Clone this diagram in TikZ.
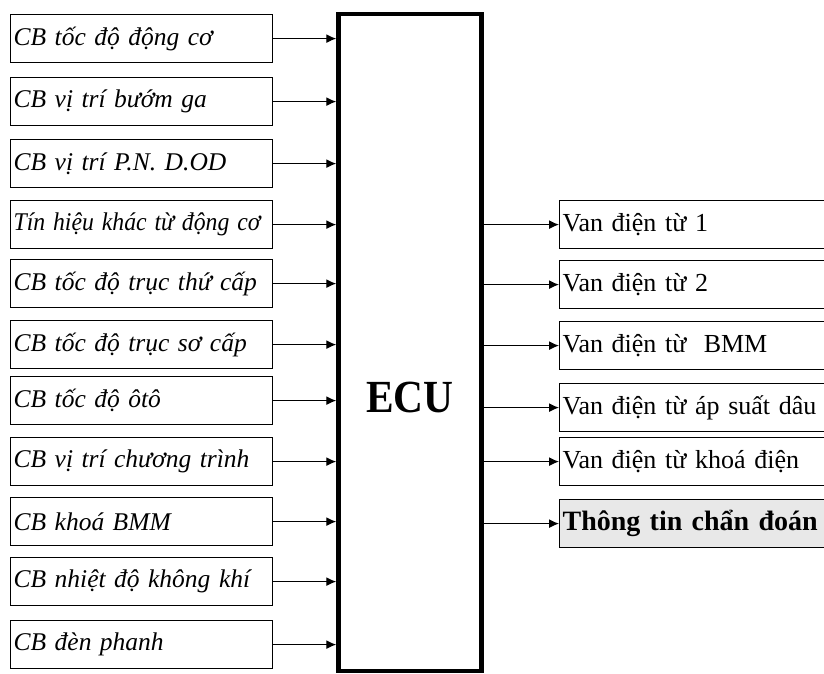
\documentclass[tikz,border=0pt]{standalone}
\usepackage{fontspec}
\setmainfont{Liberation Serif}
\usetikzlibrary{arrows.meta}
\tikzset{
  inbox/.style={draw, line width=1.2pt, anchor=north west, minimum width=262pt, minimum height=48pt,
    text width=256pt, align=left, inner sep=3pt, font=\fontsize{25.5}{29}\selectfont\itshape},
  outbox/.style={draw, line width=1.2pt, anchor=north west, minimum width=300pt, minimum height=48pt,
    text width=294pt, align=left, inner sep=3pt, font=\fontsize{26}{30}\selectfont},
  sig/.style={line width=1.2pt, -{Latex[length=10pt,width=9pt]}},
}
\begin{document}
\begin{tikzpicture}[x=1pt,y=-1pt]
\clip (0,0) rectangle (824,673);
\fill[white] (0,0) rectangle (824,673);
\node[draw, line width=4.5pt, anchor=north west, minimum width=143pt, minimum height=657pt, inner sep=0pt, outer sep=0pt] (ecu) at (338.5,14) {};
\node[font=\fontsize{46}{50}\selectfont\bfseries] (ecut) at (410,397) {\scalebox{0.9}[1]{ECU}};
\node[inbox] (i1) at (10,14) {CB tốc độ động cơ};
\node[inbox] (i2) at (10,77) {CB vị trí bướm ga};
\node[inbox] (i3) at (10,139) {CB vị trí P.N. D.OD};
\node[inbox] (i4) at (10,200) {\scalebox{0.93}[1]{Tín hiệu khác từ động cơ}};
\node[inbox] (i5) at (10,259) {CB tốc độ trục thứ cấp};
\node[inbox] (i6) at (10,320) {CB tốc độ trục sơ cấp};
\node[inbox] (i7) at (10,376) {CB tốc độ ôtô};
\node[inbox] (i8) at (10,437) {CB vị trí chương trình};
\node[inbox] (i9) at (10,497) {CB khoá BMM};
\node[inbox] (i10) at (10,557) {CB nhiệt độ không khí};
\node[inbox] (i11) at (10,620) {CB đèn phanh};
\foreach \i in {1,...,11} {\draw[sig] (i\i.east) -- ([xshift=-2.25pt]i\i.east -| ecu.west);}
\node[outbox] (o1) at (559,200) {Van điện từ 1};
\node[outbox] (o2) at (559,260) {Van điện từ 2};
\node[outbox] (o3) at (559,321) {Van điện từ\ \ BMM};
\node[outbox] (o4) at (559,383) {Van điện từ áp suất dâu};
\node[outbox] (o5) at (559,437) {Van điện từ khoá điện};
\node[outbox, fill=gray!18, font=\fontsize{28}{32}\selectfont\bfseries] (o6) at (559,499) {Thông tin chẩn đoán};
\foreach \i in {1,...,6} {\draw[sig] ([xshift=2.25pt]o\i.west -| ecu.east) -- (o\i.west);}
\end{tikzpicture}
\end{document}
